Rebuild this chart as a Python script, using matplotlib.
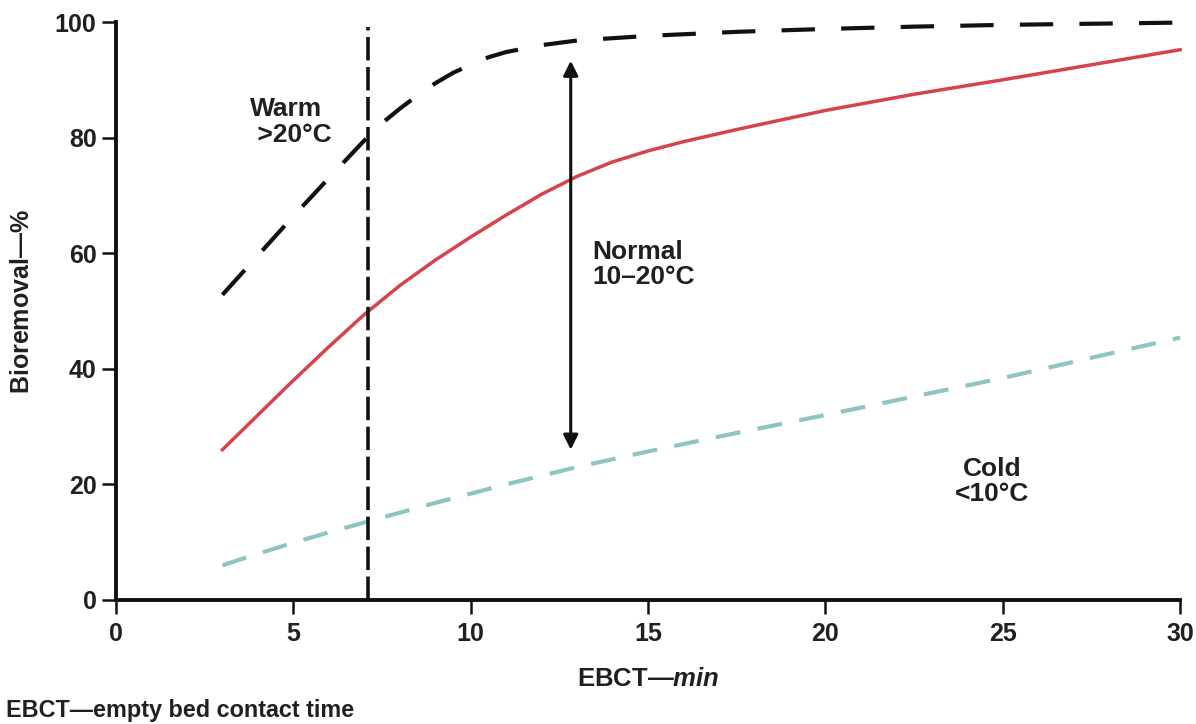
import matplotlib
matplotlib.use("Agg")
import matplotlib.pyplot as plt

# Data
warm_x = [3, 4, 5, 6, 7, 7.5, 8, 8.5, 9, 9.5, 10, 10.5, 11, 12, 13, 15, 17.5, 20, 22.5, 25, 27.5, 30]
warm_y = [52.8, 59.6, 66.4, 73, 79.5, 82.5, 85, 87.3, 89.4, 91.2, 92.6, 93.9, 94.8, 96, 96.8, 97.6, 98.3, 98.8, 99.2, 99.5, 99.7, 99.9]
normal_x = [3, 4, 5, 6, 7, 8, 9, 10, 11, 12, 13, 14, 15, 16, 17.5, 20, 22.5, 25, 27.5, 30]
normal_y = [26, 32, 38, 43.8, 49.4, 54.4, 58.8, 62.8, 66.6, 70.2, 73.3, 75.8, 77.7, 79.3, 81.4, 84.7, 87.5, 90, 92.6, 95.2]
cold_x = [3, 4, 5, 6, 7, 8, 9, 10, 11, 12, 13, 15, 17.5, 20, 22.5, 25, 27.5, 30]
cold_y = [6, 8, 9.9, 11.7, 13.4, 15.1, 16.8, 18.4, 20, 21.5, 23, 25.7, 28.9, 32, 35.2, 38.4, 41.9, 45.4]
ebct_line = 7.1
arrow_x = 12.82
arrow_y = (26, 93.3)
xticks = [0, 5, 10, 15, 20, 25, 30]
yticks = [0, 20, 40, 60, 80, 100]

TXT = "#231f20"
plt.rcParams['font.family'] = ['Liberation Sans', 'DejaVu Sans']
plt.rcParams['font.weight'] = 'bold'
plt.rcParams['mathtext.fontset'] = 'custom'
plt.rcParams['mathtext.rm'] = 'Liberation Sans:bold'
plt.rcParams['mathtext.bf'] = 'Liberation Sans:bold'
plt.rcParams['mathtext.it'] = 'Liberation Sans:bold:italic'

fig = plt.figure(figsize=(11.96, 7.24), dpi=100)
ax = fig.add_axes([0.097, 0.1713, 0.8897, 0.7983])

ax.plot(warm_x, warm_y, color="#111111", lw=3, dashes=(8, 6.3), clip_on=False)
ax.plot(normal_x, normal_y, color="#d6434a", lw=2.5, clip_on=False)
ax.plot(cold_x, cold_y, color="#8cc5c2", lw=3, dashes=(6, 4.2), clip_on=False)
ax.plot([ebct_line, ebct_line], [0, 99.2], color="#111111", lw=2.6, dashes=(6.5, 1.8), clip_on=False)

ax.annotate("", xy=(arrow_x, arrow_y[1]), xytext=(arrow_x, arrow_y[0]),
            arrowprops=dict(arrowstyle="<|-|>", color="#111111", lw=2.2,
                            mutation_scale=22, shrinkA=0, shrinkB=0))

ax.text(3.78, 87.0, "Warm\n >20°C", fontsize=19, color=TXT, fontweight='bold',
        ha='left', va='top', linespacing=1.08)
ax.text(13.42, 62.3, "Normal\n10–20°C", fontsize=19, color=TXT, fontweight='bold',
        ha='left', va='top', linespacing=1.05)
ax.text(24.7, 24.8, "Cold\n<10°C", fontsize=19, color=TXT, fontweight='bold',
        ha='center', va='top', linespacing=1.05)

ax.set_xlim(0, 30)
ax.set_ylim(0, 100)
ax.set_xticks(xticks)
ax.set_yticks(yticks)
for s in ['top', 'right']:
    ax.spines[s].set_visible(False)
for s in ['left', 'bottom']:
    ax.spines[s].set_linewidth(2.8)
    ax.spines[s].set_color("#111111")
ax.tick_params(axis='both', width=1.8, length=10, colors="#111111",
               labelsize=18, labelcolor=TXT)
ax.tick_params(axis='x', pad=6)
ax.tick_params(axis='y', pad=4)
for lab in ax.get_xticklabels() + ax.get_yticklabels():
    lab.set_fontweight('bold')

ax.set_xlabel("EBCT—$\\mathit{min}$", fontsize=18.5, color=TXT, fontweight='bold', labelpad=15)
ax.set_ylabel("Bioremoval—$\\mathit{\\%}$", fontsize=18, color=TXT, fontweight='bold')
ax.yaxis.set_label_coords(-0.077, 0.517)

fig.text(0.005, 0.019, "EBCT—empty bed contact time", fontsize=16.8, color=TXT,
         fontweight='bold', ha='left', va='center')

fig.savefig("out.png", dpi=100)
